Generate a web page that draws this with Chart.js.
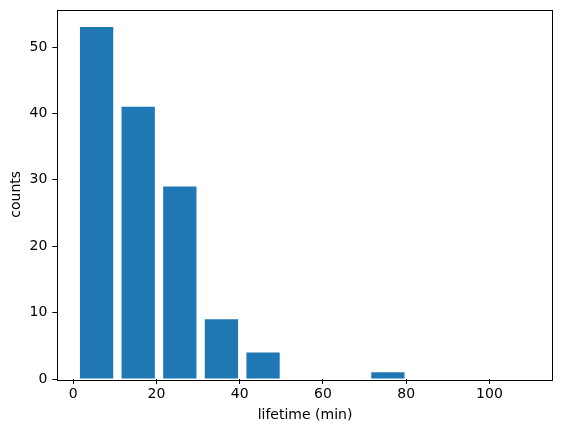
<!DOCTYPE html>
<html>
<head>
<meta charset="utf-8">
<script src="https://cdn.jsdelivr.net/npm/chart.js@4"></script>
<style>
  html, body { margin: 0; padding: 0; background: #fff; }
  #wrap { width: 563px; height: 432px; }
</style>
</head>
<body>
<div id="wrap"><canvas id="hist" width="563" height="432"></canvas></div>
<script>
// histogram bins (centre of each bin, min) and counts
const binCenters = [5.6, 15.6, 25.6, 35.6, 45.6, 55.6, 65.6, 75.6, 85.6, 95.6, 105.6];
const counts = [53, 41, 29, 9, 4, 0, 0, 1, 0, 0, 0];
const xTicks = [0, 20, 40, 60, 80, 100];
const yTicks = [0, 10, 20, 30, 40, 50];

const font = { family: 'DejaVu Sans', size: 14 };

// draw the closed axes box like matplotlib
const frame = {
  id: 'frame',
  afterDraw(chart) {
    const { ctx, chartArea: a } = chart;
    ctx.save();
    ctx.strokeStyle = '#000';
    ctx.lineWidth = 1;
    ctx.strokeRect(Math.round(a.left) + 0.5, Math.round(a.top) + 0.5,
      Math.round(a.right - a.left), Math.round(a.bottom - a.top));
    ctx.restore();
  }
};

function noPad(s) {
  s.paddingTop = 0; s.paddingBottom = 0; s.paddingLeft = 0; s.paddingRight = 0;
}

new Chart(document.getElementById('hist'), {
  type: 'bar',
  data: {
    datasets: [{
      data: binCenters.map((x, i) => ({ x: x, y: counts[i] })),
      backgroundColor: '#1f77b4',
      borderWidth: 0,
      inflateAmount: 0,
      barPercentage: 0.8,
      categoryPercentage: 1
    }]
  },
  options: {
    responsive: false,
    animation: false,
    layout: { padding: { top: 9.5, right: 10.3, left: 0, bottom: 0 } },
    plugins: { legend: { display: false }, tooltip: { enabled: false } },
    scales: {
      x: {
        type: 'linear',
        offset: false,
        min: -3.84,
        max: 115.2,
        afterBuildTicks: s => { s.ticks = xTicks.map(v => ({ value: v })); },
        afterFit: s => { s.height = 53; noPad(s); },
        grid: { offset: false, drawOnChartArea: false, color: '#000', tickLength: 5 },
        border: { display: false },
        ticks: { color: '#000', font: font, padding: 2, maxRotation: 0 },
        title: { display: true, text: 'lifetime (min)', color: '#000', font: font, padding: { top: 0, bottom: 8.6 } }
      },
      y: {
        min: 0,
        max: 55.65,
        afterBuildTicks: s => { s.ticks = yTicks.map(v => ({ value: v })); },
        afterFit: s => { s.width = 57.3; noPad(s); },
        grid: { offset: false, drawOnChartArea: false, color: '#000', tickLength: 5 },
        border: { display: false },
        ticks: { color: '#000', font: font, padding: 5 },
        title: { display: true, text: 'counts', color: '#000', font: font, padding: { top: 8.3, bottom: 0 } }
      }
    }
  },
  plugins: [frame]
});
</script>
</body>
</html>
